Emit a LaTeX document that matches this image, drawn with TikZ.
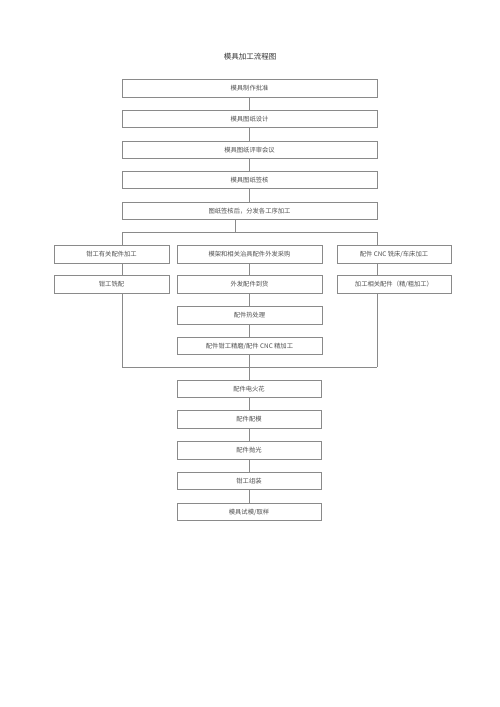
\documentclass[tikz,border=0pt]{standalone}
\usepackage{fontspec}
\newfontfamily\cjk{Noto Sans CJK SC}
\begin{document}
\begin{tikzpicture}[x=1pt,y=-1pt,
  box/.style={draw=boxgray,line width=0.8pt,fill=white,text=txtgray,inner sep=0pt,minimum height=17.5pt,font=\cjk\fontsize{6.3pt}{7pt}\selectfont},
  wide/.style={box,minimum width=255pt},
  mid/.style={box,minimum width=145pt},
  side/.style={box,minimum width=115pt},
  link/.style={draw=boxgray,line width=0.8pt}]
\definecolor{boxgray}{HTML}{8A8A8A}
\definecolor{txtgray}{HTML}{505050}
\useasboundingbox[fill=white] (0,0) rectangle (500,707);
\node[font=\cjk\fontsize{7.5pt}{9pt}\selectfont,text=black!80] (title) at (250,57) {模具加工流程图};
% wide boxes
\node[wide] (b1) at (249.5,88.5) {模具制作批准};
\node[wide] (b2) at (249.5,119) {模具图纸设计};
\node[wide] (b3) at (249.5,150) {模具图纸评审会议};
\node[wide] (b4) at (249.5,180) {模具图纸签核};
\node[wide] (b5) at (249.5,211) {图纸签核后，分发各工序加工};
% junction coordinates
\coordinate (j0) at (235,232);
\coordinate (jl) at (122,232);
\coordinate (jr) at (377,232);
\coordinate (kl) at (122,367);
\coordinate (kr) at (377,367);
\coordinate (km) at (249,367);
% rows
\node[side] (l1) at (111.5,254.5) {钳工有关配件加工};
\node[side] (l2) at (111.5,284.5) {钳工铣配};
\node[mid] (m1) at (249.5,254.5) {模架和相关治具配件外发采购};
\node[mid] (m2) at (249.5,284.5) {外发配件到货};
\node[mid] (m3) at (249.5,315.5) {配件热处理};
\node[mid] (m4) at (249.5,346) {配件钳工精磨/配件 CNC 精加工};
\node[side,minimum width=114pt] (r1) at (394,254.5) {配件 CNC 铣床/车床加工};
\node[side,minimum width=114pt] (r2) at (394,284.5) {加工相关配件（精/粗加工）};
% bottom boxes
\node[mid,minimum width=144pt] (c1) at (249,389) {配件电火花};
\node[mid,minimum width=144pt] (c2) at (249,419.5) {配件配模};
\node[mid,minimum width=144pt] (c3) at (249,450.5) {配件抛光};
\node[mid,minimum width=144pt] (c4) at (249,481) {钳工组装};
\node[mid,minimum width=144pt] (c5) at (249,512) {模具试模/取样};
% connectors
\draw[link] (b1) -- (b2);
\draw[link] (b2) -- (b3);
\draw[link] (b3) -- (b4);
\draw[link] (b4) -- (b5);
\draw[link] (j0 |- b5.south) -- (j0);
\draw[link] (jl) -- (jr);
\draw[link] (jl) -- (jl |- l1.north);
\draw[link] (jl |- l1.south) -- (jl |- l2.north);
\draw[link] (jl |- l2.south) -- (kl);
\draw[link] (jr) -- (jr |- r1.north);
\draw[link] (jr |- r1.south) -- (jr |- r2.north);
\draw[link] (jr |- r2.south) -- (kr);
\draw[link] (kl) -- (kr);
\draw[link] (km |- m1.south) -- (km |- m2.north);
\draw[link] (km |- m2.south) -- (km |- m3.north);
\draw[link] (km |- m3.south) -- (km |- m4.north);
\draw[link] (km |- m4.south) -- (c1.north);
\draw[link] (c1) -- (c2);
\draw[link] (c2) -- (c3);
\draw[link] (c3) -- (c4);
\draw[link] (c4) -- (c5);
\end{tikzpicture}
\end{document}
